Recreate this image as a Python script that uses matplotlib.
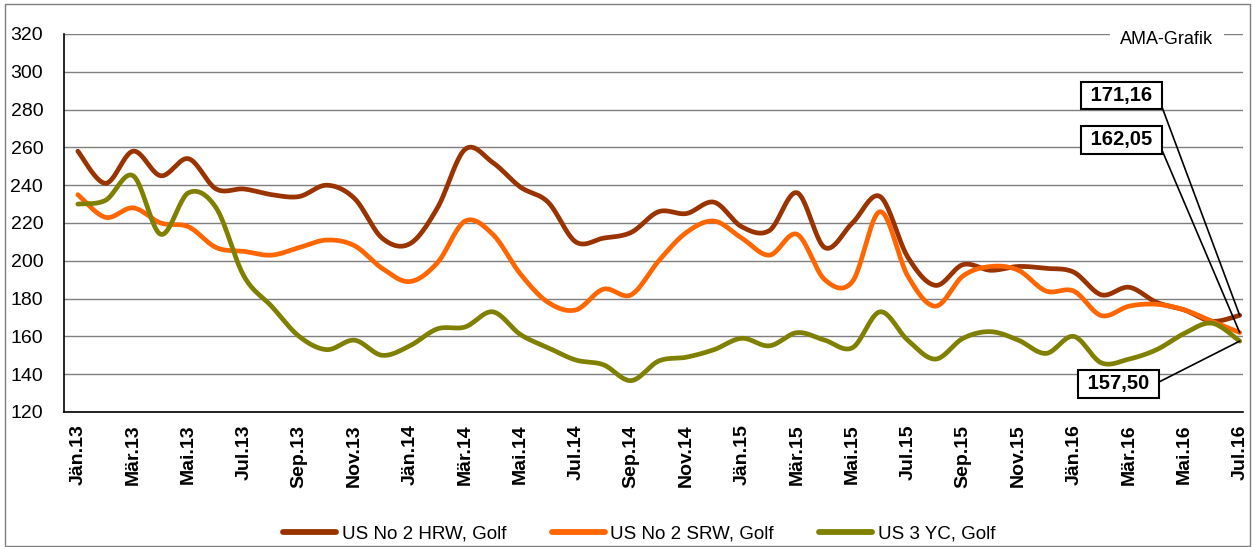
import numpy as np
import matplotlib
matplotlib.use("Agg")
import matplotlib.pyplot as plt
from matplotlib.patches import Rectangle

# ---------------- data ----------------
months = ["Jän.13", "Feb.13", "Mär.13", "Apr.13", "Mai.13", "Jun.13", "Jul.13", "Aug.13", "Sep.13", "Okt.13", "Nov.13", "Dez.13",
          "Jän.14", "Feb.14", "Mär.14", "Apr.14", "Mai.14", "Jun.14", "Jul.14", "Aug.14", "Sep.14", "Okt.14", "Nov.14", "Dez.14",
          "Jän.15", "Feb.15", "Mär.15", "Apr.15", "Mai.15", "Jun.15", "Jul.15", "Aug.15", "Sep.15", "Okt.15", "Nov.15", "Dez.15",
          "Jän.16", "Feb.16", "Mär.16", "Apr.16", "Mai.16", "Jun.16", "Jul.16"]

hrw = [258, 241, 258, 245, 254, 238, 238, 235, 234, 240, 233, 212,
       209, 228, 259, 252, 239, 231, 210, 212, 215, 226, 225, 231,
       218, 216, 236, 207, 220, 234, 202, 187, 198, 195, 197, 196,
       194, 182, 186, 178, 174, 168, 171.16]

srw = [235, 223, 228, 220, 218, 207, 205, 203, 207, 211, 208, 196,
       189, 199, 221, 214, 193, 178, 174, 185, 182, 200, 215, 221,
       212, 203, 214, 190, 189, 226, 192, 176, 192, 197, 195, 184,
       184, 171, 176, 177, 174, 168, 162.05]

yc = [230, 232, 245, 214, 236, 228, 192, 176, 160, 153, 158, 150,
      155, 164, 165, 173, 161, 154, 147.5, 145, 136.6, 147, 149, 153,
      159, 155, 162, 158, 154, 173, 158, 148, 159, 162.5, 158, 151,
      160, 146, 148, 153, 161.6, 167, 157.5]

series_names = ["US No 2 HRW, Golf", "US No 2 SRW, Golf", "US 3 YC, Golf"]
series_colors = ["#993300", "#FF6600", "#808000"]
yticks = [120, 140, 160, 180, 200, 220, 240, 260, 280, 300, 320]
end_labels = ["171,16", "162,05", "157,50"]

# ---------------- helpers ----------------
def smooth(xs, ys, n=24):
    """Excel-like smoothed line (Catmull-Rom as cubic Bezier)."""
    P = np.column_stack([xs, ys]).astype(float)
    m = len(P)
    out = []
    for i in range(m - 1):
        p0 = P[i - 1] if i > 0 else P[i]
        p1 = P[i]
        p2 = P[i + 1]
        p3 = P[i + 2] if i + 2 < m else P[i + 1]
        b1 = p1 + (p2 - p0) / 6.0
        b2 = p2 - (p3 - p1) / 6.0
        t = np.linspace(0, 1, n, endpoint=(i == m - 2))[:, None]
        seg = ((1 - t) ** 3) * p1 + 3 * ((1 - t) ** 2) * t * b1 + 3 * (1 - t) * t ** 2 * b2 + t ** 3 * p2
        out.append(seg)
    out = np.vstack(out)
    return out[:, 0], out[:, 1]

# ---------------- figure ----------------
W, H = 1252, 547
plt.rcParams["font.family"] = ["Liberation Sans", "DejaVu Sans"]
fig = plt.figure(figsize=(W / 100, H / 100), dpi=100)

ax = fig.add_axes([64 / W, 1 - 412 / H, (1243 - 64) / W, (412 - 34) / H])

x = np.arange(len(months))
for vals, name, col in zip([hrw, srw, yc], series_names, series_colors):
    sx, sy = smooth(x, vals)
    ax.plot(sx, sy, color=col, lw=3.4, solid_capstyle="round", label=name, zorder=3)

ax.set_xlim(-0.5, 42.12)
ax.set_ylim(120, 320)
ax.set_yticks(yticks)
ax.set_yticklabels([str(v) for v in yticks], fontsize=14)
ax.set_xticks(x[::2])
ax.set_xticklabels(months[::2], rotation=90, fontsize=14, fontweight="bold")
ax.tick_params(axis="both", length=0)
ax.tick_params(axis="y", pad=15)
ax.tick_params(axis="x", pad=9)

ax.grid(axis="y", color="#7f7f7f", lw=1.0, zorder=0)
ax.set_axisbelow(True)
for s in ["top", "right"]:
    ax.spines[s].set_visible(False)
for s in ["left", "bottom"]:
    ax.spines[s].set_color("black")
    ax.spines[s].set_linewidth(1.2)

# AMA-Grafik label on top gridline
ax.text((1167 - 64) / (1243 - 64), (412 - 40) / (412 - 34), "AMA-Grafik", transform=ax.transAxes,
        ha="center", va="center", fontsize=13,
        bbox=dict(boxstyle="square,pad=0.6", fc="white", ec="none"), zorder=5)

# end value callouts
box_pos = [(1161.7, 95.5), (1161.7, 140), (1159, 384)]
for vals, lab, (bx, by) in zip([hrw, srw, yc], end_labels, box_pos):
    ax.annotate(" " + lab + " ", xy=(x[-1], vals[-1]), xycoords="data",
                xytext=(bx - 4, H - by), textcoords="figure pixels",
                ha="right", va="center", fontsize=14.5, fontweight="bold",
                bbox=dict(boxstyle="square,pad=0.2", fc="white", ec="black", lw=1.5),
                arrowprops=dict(arrowstyle="-", color="black", lw=1.2, relpos=(1, 0.5),
                                shrinkA=0, shrinkB=0),
                annotation_clip=False, zorder=6)

# legend
fs = 13.5
px = fs * 100 / 72
leg = fig.legend(loc="center left", bbox_to_anchor=(283 / W, (H - 534) / H), ncol=3, frameon=False,
                 prop={"size": fs}, borderaxespad=0, borderpad=0,
                 handlelength=53 / px, handletextpad=6 / px, columnspacing=45 / px)
for lh in leg.get_lines():
    lh.set_linewidth(4.2)

# outer frame
fig.patches.append(Rectangle((5 / W, 1 / H), (1250 - 5) / W, (H - 4 - 1) / H, transform=fig.transFigure,
                             fill=False, ec="#7f7f7f", lw=1.0))

fig.savefig("out.png", dpi=100)
